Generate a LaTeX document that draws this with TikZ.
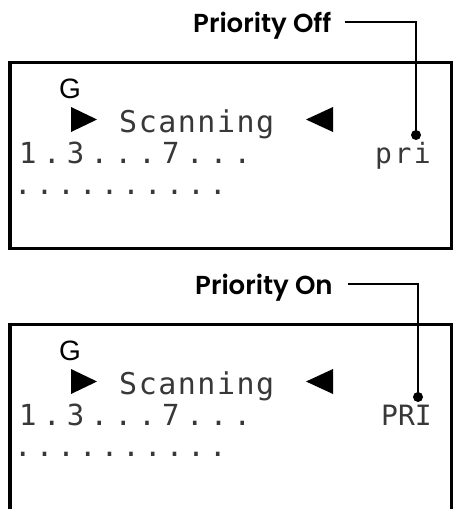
\documentclass[tikz,border=0pt]{standalone}
\usepackage{fontspec}
\setmainfont{Liberation Sans}
\newfontfamily\labelfont{Poppins SemiBold}
\newfontfamily\lcdscan{DejaVu Sans Mono}[LetterSpace=5]
\newfontfamily\lcdnum{DejaVu Sans Mono}[LetterSpace=22]
\newfontfamily\lcddots{DejaVu Sans Mono}[LetterSpace=14.5]
\newfontfamily\lcdpri{DejaVu Sans Mono}[LetterSpace=9]
\newfontfamily\lcdPRI{DejaVu Sans Mono}[LetterSpace=0]
\begin{document}
\begin{tikzpicture}[x=1pt,y=-1pt,
  frame/.style={line width=3.5pt},
  lbl/.style={font=\labelfont\fontsize{26}{26}\selectfont, inner sep=0pt, anchor=base west},
  gmark/.style={font=\fontsize{28}{28}\selectfont, inner sep=0pt, anchor=base west},
  lcdtxt/.style={text=black!78, inner sep=0pt, anchor=base west},
  callout/.style={line width=2pt},
  tri/.style={fill=black}
]
\useasboundingbox (0,0) rectangle (453,509);

% ---------- Panel 1: Priority Off ----------
\draw[frame] (10,62.5) rectangle (451.5,248.5);
\node[gmark] (g1) at (59,98) {G};
\fill[tri] (71,107) -- (71,132) -- (97,119.5) -- cycle;
\fill[tri] (333,107) -- (333,132) -- (306,119.5) -- cycle;
\node[lcdtxt, font=\lcdscan\fontsize{30}{30}\selectfont] (scan1) at (119,132) {Scanning};
\node[lcdtxt, font=\lcdnum\fontsize{29}{29}\selectfont] (num1) at (19,163) {1.3...7...};
\node[lcdtxt, font=\lcddots\fontsize{29}{29}\selectfont] (dots1) at (14,194) {..........};
\node[lcdtxt, font=\lcdpri\fontsize{28}{28}\selectfont] (pri1) at (375,163) {pri};
\node[lbl] (offlbl) at (193,32) {Priority Off};
\coordinate (offdot) at (416,135);
\draw[callout] (offlbl.base east) ++(13,-10) -| (offdot);
\fill (offdot) circle (5);

% ---------- Panel 2: Priority On ----------
\draw[frame] (10,515) -- (10,324.5) -- (451.5,324.5) -- (451.5,515);
\node[gmark] (g2) at (59,360) {G};
\fill[tri] (71,369) -- (71,394) -- (97,381.5) -- cycle;
\fill[tri] (333,369) -- (333,394) -- (306,381.5) -- cycle;
\node[lcdtxt, font=\lcdscan\fontsize{30}{30}\selectfont] (scan2) at (119,394) {Scanning};
\node[lcdtxt, font=\lcdnum\fontsize{29}{29}\selectfont] (num2) at (19,425) {1.3...7...};
\node[lcdtxt, font=\lcddots\fontsize{29}{29}\selectfont] (dots2) at (14,456) {..........};
\node[lcdtxt, font=\lcdPRI\fontsize{28}{28}\selectfont] (pri2) at (381,425) {PRI};
\node[lbl] (onlbl) at (195,294) {Priority On};
\coordinate (ondot) at (418,397);
\draw[callout] (onlbl.base east) ++(15,-10) -| (ondot);
\fill (ondot) circle (5);
\end{tikzpicture}
\end{document}
